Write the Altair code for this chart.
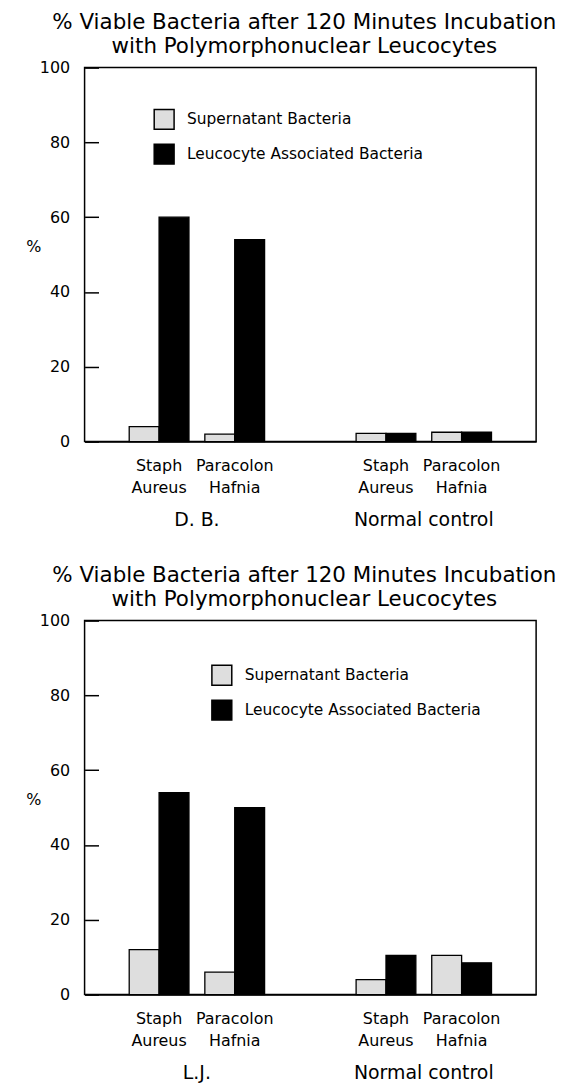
import altair as alt
import pandas as pd

# ---- data ----
title_lines = ["% Viable Bacteria after 120 Minutes Incubation",
               "with Polymorphonuclear Leucocytes"]
series = ["Supernatant Bacteria", "Leucocyte Associated Bacteria"]
organisms = ["Staph Aureus", "Paracolon Hafnia"]

top_subjects = ["D. B.", "Normal control"]
top_supernatant = [4.0, 2.0, 2.2, 2.5]
top_leucocyte = [60.0, 54.0, 2.2, 2.5]

bottom_subjects = ["L.J.", "Normal control"]
bottom_supernatant = [12.0, 6.0, 4.0, 10.5]
bottom_leucocyte = [54.0, 50.0, 10.5, 8.5]

y_ticks = [0, 20, 40, 60, 80, 100]
GAP = " "

FONT = "DejaVu Sans"
W, H = 454, 376


def build_frame(subjects, sup, leu):
    rows = []
    i = 0
    for s in subjects:
        for o in organisms:
            key = s + "|" + o
            rows.append({"key": key, "series": series[0], "value": sup[i]})
            rows.append({"key": key, "series": series[1], "value": leu[i]})
            i += 1
    return pd.DataFrame(rows)


def domain_for(subjects):
    d = [subjects[0] + "|" + o for o in organisms]
    d.append(GAP)
    d += [subjects[1] + "|" + o for o in organisms]
    return d


def panel(subjects, sup, leu, legend_x, legend_y):
    df = build_frame(subjects, sup, leu)
    dom = domain_for(subjects)
    xscale = alt.Scale(domain=dom, paddingInner=0.21, paddingOuter=0.59)
    x_enc = alt.X(
        "key:N",
        scale=xscale,
        sort=dom,
        axis=alt.Axis(
            title=None, ticks=False, labelAngle=0, domain=True,
            domainColor="black", domainWidth=1.5,
            labelExpr="datum.value == ' ' ? '' : split(split(datum.value, '|')[1], ' ')",
            labelFontSize=16, labelColor="black", labelPadding=16,
            labelLineHeight=22, labelBaseline="top", labelFont=FONT,
        ),
    )
    bars = alt.Chart(df).mark_bar(stroke="black", strokeWidth=1.3).encode(
        x=x_enc,
        xOffset=alt.XOffset("series:N", sort=series,
                            scale=alt.Scale(domain=series, paddingInner=0, paddingOuter=0)),
        y=alt.Y("value:Q",
                scale=alt.Scale(domain=[0, 100], nice=False),
                axis=alt.Axis(values=y_ticks, grid=False, domain=False,
                              offset=-14, tickSize=14, tickColor="black",
                              tickWidth=1.5, labelPadding=15, labelFontSize=16,
                              labelColor="black", labelFont=FONT,
                              title="%", titleAngle=0, titleFontSize=16,
                              titleFontWeight="normal", titleColor="black",
                              titlePadding=6, titleFont=FONT)),
        color=alt.Color("series:N", sort=series,
                        scale=alt.Scale(domain=series, range=["#dedede", "black"]),
                        legend=alt.Legend(title=None, orient="none",
                                          legendX=legend_x, legendY=legend_y,
                                          symbolType="square", symbolSize=400,
                                          symbolStrokeColor="black",
                                          symbolStrokeWidth=1.5,
                                          labelFontSize=15.5, labelColor="black",
                                          labelFont=FONT, labelOffset=12,
                                          labelLimit=0,
                                          rowPadding=9, padding=0)),
    )
    gdf = pd.DataFrame({"subject": subjects,
                        "key": [s + "|" + organisms[0] for s in subjects]})
    glabels = alt.Chart(gdf).mark_text(
        fontSize=19, font=FONT, color="black", dx=38, baseline="middle"
    ).encode(
        x=alt.X("key:N", scale=xscale, sort=dom),
        y=alt.value(H + 79),
        text="subject:N",
    )
    return alt.layer(bars, glabels).properties(
        width=W, height=H,
        title=alt.Title(title_lines, fontSize=21.5, fontWeight="normal",
                        font=FONT, color="black", anchor="middle",
                        lineHeight=24, offset=2, dx=-6),
    )


top = panel(top_subjects, top_supernatant, top_leucocyte, 69, 41)
bottom = panel(bottom_subjects, bottom_supernatant, bottom_leucocyte, 127, 44)

chart = alt.vconcat(top, bottom, spacing=33).resolve_scale(
    color="independent", x="independent"
).resolve_legend(color="independent").properties(
    padding={"left": 17, "top": 0, "right": 0, "bottom": 0}
).configure(
    background="white",
    view=alt.ViewConfig(stroke="black", strokeWidth=1.5),
)

chart.save("out.html", embed_options={"renderer": "svg", "actions": False})
